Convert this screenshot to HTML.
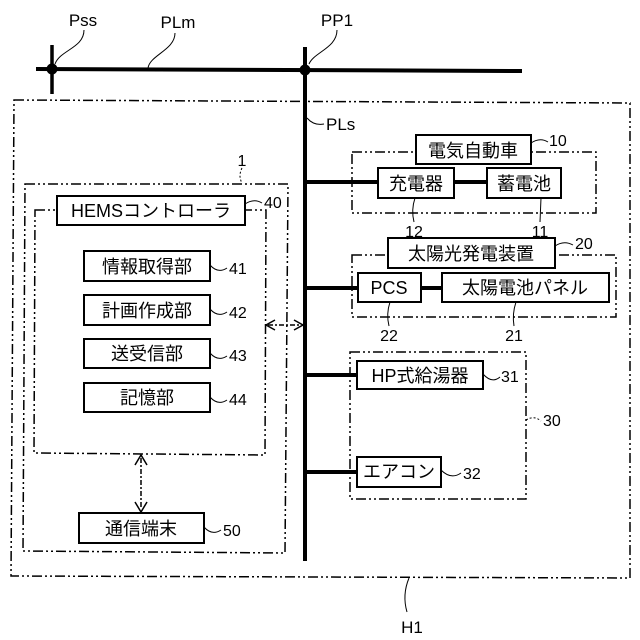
<!DOCTYPE html>
<html><head><meta charset="utf-8"><style>
html,body{margin:0;padding:0;background:#fff;}
svg{display:block;}
text{font-family:"Liberation Sans","Noto Sans CJK JP",sans-serif;fill:#000;}
.b{fill:#fff;stroke:#000;stroke-width:2;}
.d{fill:none;stroke:#000;stroke-width:1.5;stroke-dasharray:10 3 2 3 2 3;}
.t{font-size:18px;text-anchor:middle;}
.n{font-size:16px;}
.l{fill:none;stroke:#000;stroke-width:1;}
</style></head><body>
<svg width="640" height="640" viewBox="0 0 640 640" xmlns="http://www.w3.org/2000/svg">
<line x1="36" y1="69" x2="522" y2="71" stroke="#000" stroke-width="4"/>
<line x1="52" y1="45" x2="52" y2="94" stroke="#000" stroke-width="3.5"/>
<circle cx="52" cy="69" r="5.5" fill="#000"/>
<line x1="305" y1="47" x2="305" y2="561" stroke="#000" stroke-width="4"/>
<circle cx="305" cy="70" r="5.5" fill="#000"/>
<text x="83" y="26" class="n" text-anchor="middle" style="font-size:17px">Pss</text>
<text x="178" y="28" class="n" text-anchor="middle" style="font-size:17px">PLm</text>
<text x="337" y="26" class="n" text-anchor="middle" style="font-size:17px">PP1</text>
<path class="l" d="M84 30 C84 48,60 50,55 64"/>
<path class="l" d="M175 33 C175 50,150 55,148 68"/>
<path class="l" d="M337 30 C337 48,314 52,309 64"/>
<path class="d" d="M14 100 L630 103 L630 578 L11 576 Z"/>
<text x="326" y="130" class="n" style="font-size:17px">PLs</text>
<path class="l" d="M307 118 Q314 126,324 124"/>
<text x="412" y="633" class="n" text-anchor="middle" style="font-size:17px">H1</text>
<path class="l" d="M409 578 Q402 595,407 612"/>
<path class="d" d="M352 152 L596 152 L596 213 L352 213 Z"/>
<rect class="b" x="416" y="135" width="115" height="29"/>
<text x="473" y="157" class="t">電気自動車</text>
<text x="549" y="146" class="n">10</text>
<path class="l" d="M531 143 Q540 137,548 142"/>
<line x1="305" y1="182" x2="378" y2="182" stroke="#000" stroke-width="4"/>
<line x1="454" y1="182" x2="487" y2="182" stroke="#000" stroke-width="4"/>
<rect class="b" x="378" y="168" width="76" height="30"/>
<text x="416" y="190" class="t">充電器</text>
<rect class="b" x="487" y="168" width="74" height="30"/>
<text x="524" y="190" class="t">蓄電池</text>
<text x="414" y="237" class="n" text-anchor="middle">12</text>
<text x="540" y="237" class="n" text-anchor="middle">11</text>
<path class="l" d="M415 198 Q411 210,414 222"/>
<path class="l" d="M541 198 L540 222"/>
<path class="d" d="M352 255 L616 255 L616 317 L352 317 Z"/>
<rect class="b" x="388" y="238" width="167" height="30"/>
<text x="471" y="260" class="t">太陽光発電装置</text>
<text x="575" y="249" class="n">20</text>
<path class="l" d="M555 246 Q564 240,573 245"/>
<line x1="305" y1="288" x2="358" y2="288" stroke="#000" stroke-width="4"/>
<line x1="421" y1="288" x2="442" y2="288" stroke="#000" stroke-width="4"/>
<rect class="b" x="358" y="273" width="63" height="29"/>
<text x="389" y="294" class="t">PCS</text>
<rect class="b" x="442" y="273" width="167" height="29"/>
<text x="525" y="294" class="t">太陽電池パネル</text>
<text x="389" y="341" class="n" text-anchor="middle">22</text>
<text x="514" y="341" class="n" text-anchor="middle">21</text>
<path class="l" d="M390 302 Q386 314,389 326"/>
<path class="l" d="M516 302 Q512 314,514 326"/>
<path class="d" d="M350 352 L526 352 L526 499 L350 499 Z"/>
<line x1="305" y1="375" x2="357" y2="375" stroke="#000" stroke-width="4"/>
<rect class="b" x="357" y="361" width="126" height="28"/>
<text x="420" y="382" class="t">HP式給湯器</text>
<text x="501" y="382" class="n">31</text>
<path class="l" d="M483 374 Q492 384,500 377"/>
<line x1="305" y1="472" x2="357" y2="472" stroke="#000" stroke-width="4"/>
<rect class="b" x="357" y="457" width="84" height="30"/>
<text x="399" y="478" class="t">エアコン</text>
<text x="463" y="479" class="n">32</text>
<path class="l" d="M441 470 Q451 480,461 473"/>
<text x="543" y="426" class="n">30</text>
<path class="l" d="M526 420 Q534 415,541 421" stroke-dasharray="2 2"/>
<path class="d" d="M25 184 L288 184 L285 553 L23 551 Z"/>
<text x="242" y="166" class="n" text-anchor="middle">1</text>
<path class="l" d="M242 168 Q238 176,242 183" stroke-dasharray="2 2"/>
<path class="d" d="M35 210 L266 210 L265 455 L34 453 Z"/>
<rect class="b" x="57" y="196" width="188" height="29"/>
<text x="151" y="217" class="t">HEMSコントローラ</text>
<text x="264" y="208" class="n">40</text>
<path class="l" d="M245 204 Q254 198,262 203"/>
<rect class="b" x="84" y="251" width="126" height="30"/>
<text x="147" y="273" class="t">情報取得部</text>
<rect class="b" x="84" y="295" width="126" height="30"/>
<text x="147" y="317" class="t">計画作成部</text>
<rect class="b" x="84" y="339" width="126" height="29"/>
<text x="147" y="360" class="t">送受信部</text>
<rect class="b" x="84" y="383" width="126" height="29"/>
<text x="147" y="404" class="t">記憶部</text>
<text x="229" y="274" class="n">41</text>
<text x="229" y="318" class="n">42</text>
<text x="229" y="361" class="n">43</text>
<text x="229" y="405" class="n">44</text>
<path class="l" d="M210 265 Q218 274,227 268"/>
<path class="l" d="M210 309 Q218 318,227 312"/>
<path class="l" d="M210 353 Q218 362,227 356"/>
<path class="l" d="M210 397 Q218 406,227 400"/>
<line x1="141" y1="458" x2="141" y2="509" stroke="#000" stroke-width="1.5" stroke-dasharray="5 2 2 2"/>
<path d="M135 465 L141 455 L147 465" fill="none" stroke="#000" stroke-width="1.5"/>
<path d="M135 502 L141 512 L147 502" fill="none" stroke="#000" stroke-width="1.5"/>
<line x1="268" y1="325" x2="300" y2="325" stroke="#000" stroke-width="1.5" stroke-dasharray="5 2 2 2"/>
<path d="M275 320 L266 325 L275 330" fill="none" stroke="#000" stroke-width="1.5"/>
<path d="M294 320 L303 325 L294 330" fill="none" stroke="#000" stroke-width="1.5"/>
<rect class="b" x="79" y="513" width="125" height="30"/>
<text x="141" y="535" class="t">通信端末</text>
<text x="223" y="536" class="n">50</text>
<path class="l" d="M204 527 Q212 536,221 530"/>
</svg>
</body></html>
